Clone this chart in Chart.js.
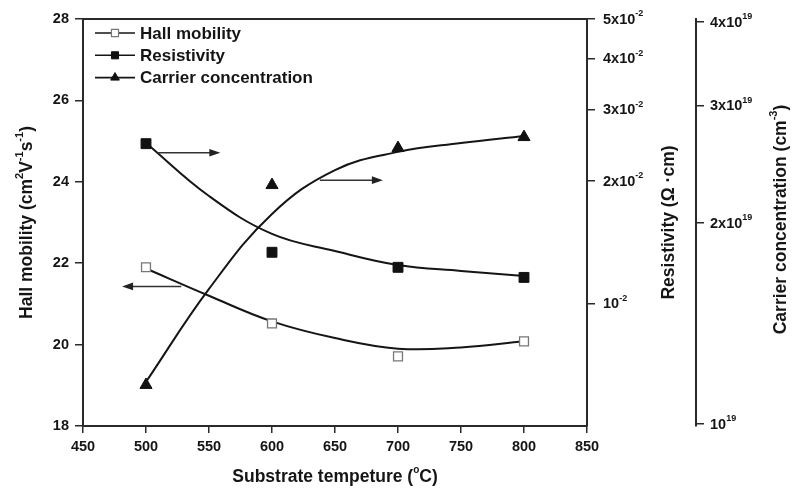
<!DOCTYPE html>
<html>
<head>
<meta charset="utf-8">
<script src="https://cdn.jsdelivr.net/npm/chart.js@4.4.1/dist/chart.umd.min.js"></script>
<style>
  html, body { margin: 0; padding: 0; background: #fff; }
  #wrap { width: 798px; height: 491px; }
</style>
</head>
<body>
<div id="wrap"><canvas id="grafico" width="798" height="491"></canvas></div>
<script>
// measured points
var temps = [500, 600, 700, 800];
var mobility = [21.9, 20.52, 19.71, 20.08];
var resistivity = [0.0247, 0.01336, 0.01227, 0.01159];
var carrier = [1.144e19, 2.279e19, 2.589e19, 2.689e19];

// fitted curves, read every 50 °C
var fitTemps = [500, 550, 600, 650, 700, 750, 800];
var mobilityFit = [21.87, 21.2, 20.57, 20.16, 19.9, 19.93, 20.08];
var resistivityFit = [0.0248, 0.01837, 0.01482, 0.01346, 0.01243, 0.01202, 0.01168];
var carrierFit = [1.156e19, 1.593e19, 2.063e19, 2.40e19, 2.555e19, 2.634e19, 2.70e19];

// axis ticks
var xTicks = [450, 500, 550, 600, 650, 700, 750, 800, 850];
var mobilityTicks = [18, 20, 22, 24, 26, 28];
var resistivityTicks = [0.01, 0.02, 0.03, 0.04, 0.05];
var resistivityLabels = [['10', '-2'], ['2x10', '-2'], ['3x10', '-2'], ['4x10', '-2'], ['5x10', '-2']];
var carrierTicks = [1e19, 2e19, 3e19, 4e19];
var carrierLabels = [['10', '19'], ['2x10', '19'], ['3x10', '19'], ['4x10', '19']];

var seriesNames = ['Hall mobility', 'Resistivity', 'Carrier concentration'];

var FONT = '"Liberation Sans", Arial, sans-serif';
var INK = '#151515';
var AXIS = '#2a2a2a';

function pts(xs, ys) {
  return xs.map(function (x, i) { return { x: x, y: ys[i] }; });
}

// text with superscripts: parts = [[text, isSup], ...]
function drawRich(ctx, parts, x, y, o) {
  ctx.save();
  ctx.translate(x, y);
  if (o.rotate) ctx.rotate(o.rotate);
  var total = 0;
  parts.forEach(function (p) {
    ctx.font = 'bold ' + (p[1] ? o.sup : o.size) + 'px ' + FONT;
    total += ctx.measureText(p[0]).width;
  });
  var cx = o.align === 'center' ? -total / 2 : 0;
  ctx.textAlign = 'left';
  ctx.textBaseline = 'middle';
  ctx.fillStyle = INK;
  parts.forEach(function (p) {
    ctx.font = 'bold ' + (p[1] ? o.sup : o.size) + 'px ' + FONT;
    ctx.fillText(p[0], cx, p[1] ? -o.rise : 0);
    cx += ctx.measureText(p[0]).width;
  });
  ctx.restore();
}

// arrows pointing each curve to its axis
var arrows = [
  { axis: 'yRes', from: 509, to: 559, at: 0.02346 },
  { axis: 'yCar', from: 638, to: 688, at: 2.318e19 },
  { axis: 'y', from: 528, to: 481, at: 21.43 }
];

var markerStyles = [
  { pointStyle: 'rect', radius: 5, fill: '#fff', stroke: '#777', bw: 1.2 },
  { pointStyle: 'rect', radius: 5, fill: '#111', stroke: '#111', bw: 1 },
  { pointStyle: 'triangle', radius: 5, fill: '#111', stroke: '#111', bw: 1 }
];

var decorPlugin = {
  id: 'decor',
  afterDraw: function (chart) {
    var ctx = chart.ctx;
    var a = chart.chartArea;
    var xs = chart.scales.x;

    // top frame line
    ctx.save();
    ctx.strokeStyle = AXIS;
    ctx.lineWidth = 2;
    ctx.beginPath();
    ctx.moveTo(a.left - 1, a.top);
    ctx.lineTo(a.right + 1, a.top);
    ctx.stroke();
    ctx.restore();

    // arrows
    arrows.forEach(function (ar) {
      var ys = chart.scales[ar.axis];
      var y = ys.getPixelForValue(ar.at);
      var x0 = xs.getPixelForValue(ar.from);
      var x1 = xs.getPixelForValue(ar.to);
      var dir = x1 > x0 ? 1 : -1;
      ctx.save();
      ctx.strokeStyle = '#333';
      ctx.fillStyle = '#222';
      ctx.lineWidth = 1.5;
      ctx.beginPath();
      ctx.moveTo(x0, y);
      ctx.lineTo(x1 - dir * 6, y);
      ctx.stroke();
      ctx.beginPath();
      ctx.moveTo(x1, y);
      ctx.lineTo(x1 - dir * 11, y - 3.8);
      ctx.lineTo(x1 - dir * 11, y + 3.8);
      ctx.closePath();
      ctx.fill();
      ctx.restore();
    });

    // legend
    seriesNames.forEach(function (name, i) {
      var y = a.top + 14 + i * 22.3;
      var lx = a.left + 12;
      ctx.save();
      ctx.strokeStyle = INK;
      ctx.lineWidth = 1.6;
      ctx.beginPath();
      ctx.moveTo(lx, y);
      ctx.lineTo(lx + 40, y);
      ctx.stroke();
      var m = markerStyles[i];
      ctx.fillStyle = m.fill;
      ctx.strokeStyle = m.stroke;
      ctx.lineWidth = m.bw;
      Chart.helpers.drawPoint(ctx, { pointStyle: m.pointStyle, rotation: 0, radius: m.radius, borderWidth: m.bw }, lx + 20, y);
      ctx.fillStyle = INK;
      ctx.font = 'bold 17px ' + FONT;
      ctx.textBaseline = 'middle';
      ctx.fillText(name, lx + 45, y + 1);
      ctx.restore();
    });

    // right-hand tick labels with exponents
    var rs = chart.scales.yRes;
    resistivityTicks.forEach(function (v, i) {
      drawRich(ctx, [[resistivityLabels[i][0], 0], [resistivityLabels[i][1], 1]],
        rs.left + 16, rs.getPixelForValue(v) + 1, { size: 14.5, sup: 9, rise: 6 });
    });
    var cs = chart.scales.yCar;
    carrierTicks.forEach(function (v, i) {
      drawRich(ctx, [[carrierLabels[i][0], 0], [carrierLabels[i][1], 1]],
        cs.left + 14, cs.getPixelForValue(v) + 1, { size: 14.5, sup: 9, rise: 6 });
    });

    // axis titles
    var midY = (a.top + a.bottom) / 2;
    drawRich(ctx, [['Hall mobility (cm', 0], ['2', 1], ['V', 0], ['-1', 1], ['s', 0], ['-1', 1], [')', 0]],
      27, midY, { size: 17.5, sup: 11, rise: 7, align: 'center', rotate: -Math.PI / 2 });
    drawRich(ctx, [['Substrate tempeture (', 0], ['o', 1], ['C)', 0]],
      (a.left + a.right) / 2, a.bottom + 51, { size: 17.5, sup: 10, rise: 7, align: 'center' });
    drawRich(ctx, [['Resistivity (\u03A9 \u00B7cm)', 0]],
      rs.left + 82, midY, { size: 17.5, sup: 11, rise: 7, align: 'center', rotate: -Math.PI / 2 });
    drawRich(ctx, [['Carrier concentration (cm', 0], ['-3', 1], [')', 0]],
      cs.left + 85, midY - 3, { size: 17.5, sup: 11, rise: 7, align: 'center', rotate: -Math.PI / 2 });
  }
};

function fixWidth(w) {
  return function (scale) {
    scale.width = w;
    scale.paddingTop = 0; scale.paddingBottom = 0;
    scale.paddingLeft = 0; scale.paddingRight = 0;
  };
}

var ctx = document.getElementById('grafico').getContext('2d');

var data = {
  datasets: [
    {
      data: pts(temps, mobility), yAxisID: 'y', showLine: false,
      pointStyle: 'rect', pointRadius: 6.3, pointBackgroundColor: '#fff',
      pointBorderColor: '#777', pointBorderWidth: 1.3
    },
    {
      data: pts(fitTemps, mobilityFit), yAxisID: 'y', pointRadius: 0,
      borderColor: INK, borderWidth: 2, tension: 0.4, fill: false
    },
    {
      data: pts(temps, resistivity), yAxisID: 'yRes', showLine: false,
      pointStyle: 'rect', pointRadius: 7, pointBackgroundColor: '#111',
      pointBorderColor: '#111', pointBorderWidth: 1
    },
    {
      data: pts(fitTemps, resistivityFit), yAxisID: 'yRes', pointRadius: 0,
      borderColor: INK, borderWidth: 2, tension: 0.4, fill: false
    },
    {
      data: pts(temps, carrier), yAxisID: 'yCar', showLine: false,
      pointStyle: 'triangle', pointRadius: 7, pointBackgroundColor: '#111',
      pointBorderColor: '#111', pointBorderWidth: 1
    },
    {
      data: pts(fitTemps, carrierFit), yAxisID: 'yCar', pointRadius: 0,
      borderColor: INK, borderWidth: 2, tension: 0.4, fill: false
    }
  ]
};

var options = {
  responsive: false,
  animation: false,
  devicePixelRatio: 1,
  events: [],
  layout: { padding: { top: 19, left: 0, right: 0, bottom: 0 } },
  plugins: { legend: { display: false }, tooltip: { enabled: false } },
  scales: {
    x: {
      type: 'linear', min: 450, max: 850,
      afterBuildTicks: function (s) { s.ticks = xTicks.map(function (v) { return { value: v }; }); },
      afterFit: function (s) { s.height = 65; s.paddingLeft = 0; s.paddingRight = 0; },
      grid: { drawOnChartArea: false, drawTicks: true, tickLength: 7, color: AXIS, lineWidth: 1.5 },
      border: { display: true, color: AXIS, width: 2 },
      ticks: { color: INK, font: { family: FONT, size: 14.5, weight: 'bold' }, padding: 5, maxRotation: 0 }
    },
    y: {
      type: 'linear', position: 'left', min: 18, max: 28,
      afterBuildTicks: function (s) { s.ticks = mobilityTicks.map(function (v) { return { value: v }; }); },
      afterFit: fixWidth(83),
      grid: { drawOnChartArea: false, drawTicks: true, tickLength: 8, color: AXIS, lineWidth: 1.5 },
      border: { display: true, color: AXIS, width: 2 },
      ticks: { color: INK, font: { family: FONT, size: 14.5, weight: 'bold' }, padding: 6 }
    },
    yRes: {
      type: 'logarithmic', position: 'right', min: 0.005, max: 0.05,
      afterBuildTicks: function (s) { s.ticks = resistivityTicks.map(function (v) { return { value: v }; }); },
      afterFit: fixWidth(109),
      grid: { drawOnChartArea: false, drawTicks: true, tickLength: 8, color: AXIS, lineWidth: 1.5 },
      border: { display: true, color: AXIS, width: 2 },
      ticks: { callback: function () { return ''; } }
    },
    yCar: {
      type: 'logarithmic', position: 'right', min: 9.93e18, max: 4.04e19,
      afterBuildTicks: function (s) { s.ticks = carrierTicks.map(function (v) { return { value: v }; }); },
      afterFit: fixWidth(102),
      grid: { drawOnChartArea: false, drawTicks: true, tickLength: 8, color: AXIS, lineWidth: 1.5 },
      border: { display: true, color: AXIS, width: 2 },
      ticks: { callback: function () { return ''; } }
    }
  }
};

var myChart = new Chart(ctx, {
  type: 'line',
  data: data,
  options: options,
  plugins: [decorPlugin]
});
</script>
</body>
</html>
